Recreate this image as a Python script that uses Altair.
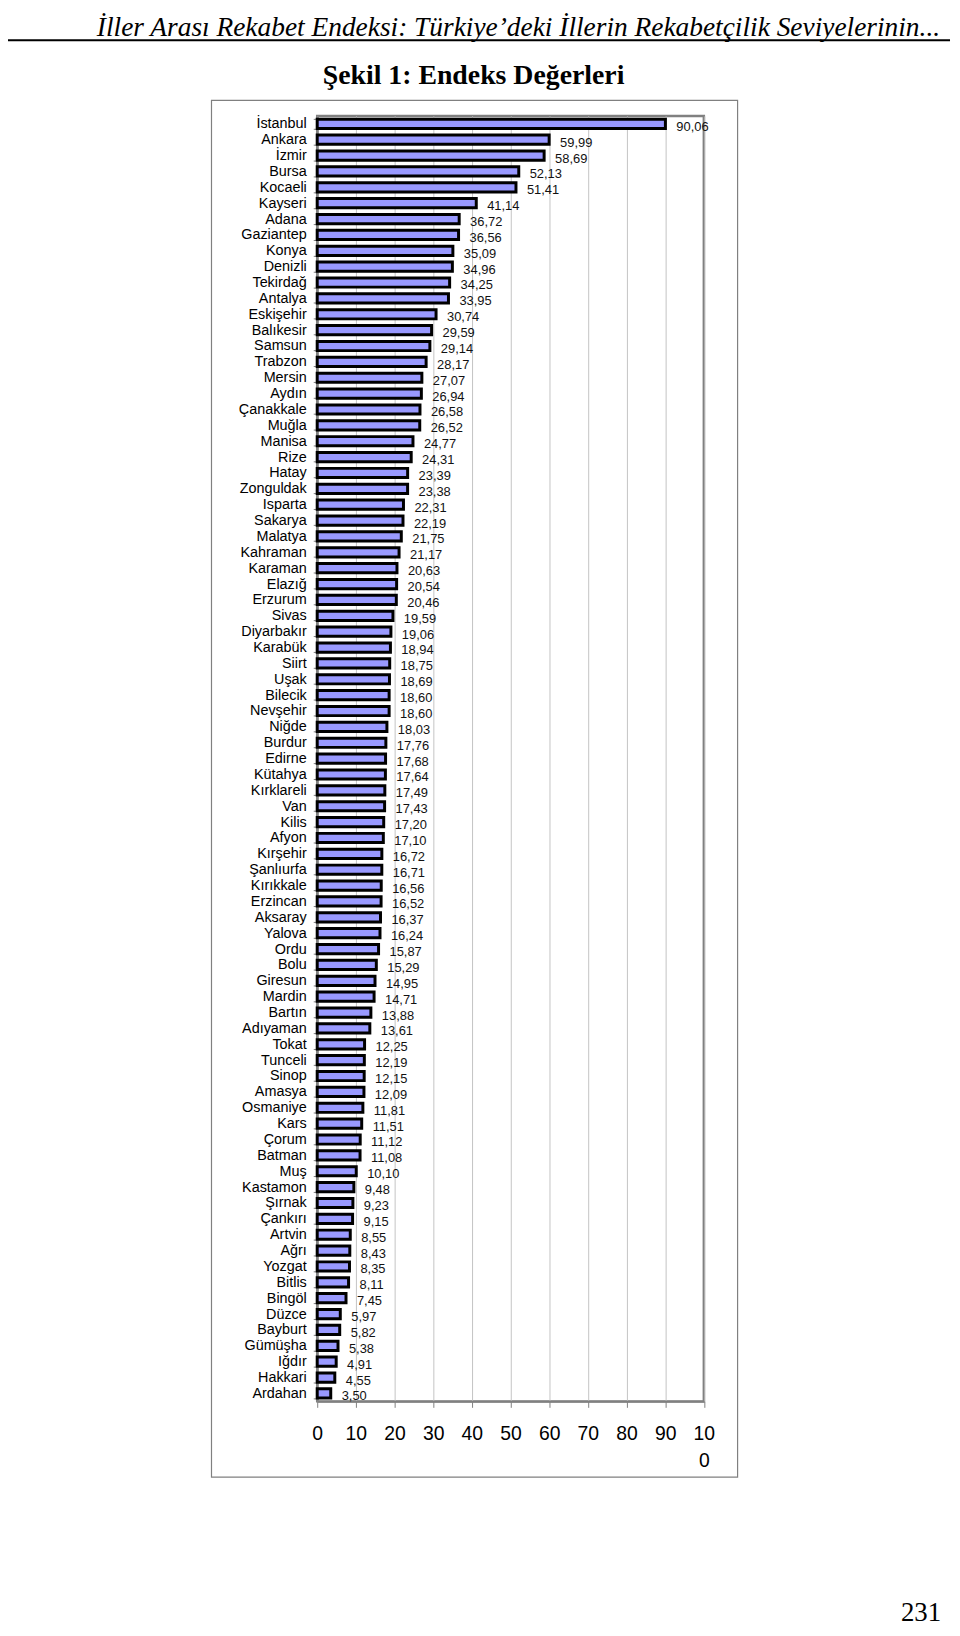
import altair as alt
import pandas as pd

provinces = [
    "İstanbul", "Ankara", "İzmir", "Bursa", "Kocaeli", "Kayseri", "Adana", "Gaziantep",
    "Konya", "Denizli", "Tekirdağ", "Antalya", "Eskişehir", "Balıkesir", "Samsun", "Trabzon",
    "Mersin", "Aydın", "Çanakkale", "Muğla", "Manisa", "Rize", "Hatay", "Zonguldak",
    "Isparta", "Sakarya", "Malatya", "Kahraman", "Karaman", "Elazığ", "Erzurum", "Sivas",
    "Diyarbakır", "Karabük", "Siirt", "Uşak", "Bilecik", "Nevşehir", "Niğde", "Burdur",
    "Edirne", "Kütahya", "Kırklareli", "Van", "Kilis", "Afyon", "Kırşehir", "Şanlıurfa",
    "Kırıkkale", "Erzincan", "Aksaray", "Yalova", "Ordu", "Bolu", "Giresun", "Mardin",
    "Bartın", "Adıyaman", "Tokat", "Tunceli", "Sinop", "Amasya", "Osmaniye", "Kars",
    "Çorum", "Batman", "Muş", "Kastamon", "Şırnak", "Çankırı", "Artvin", "Ağrı",
    "Yozgat", "Bitlis", "Bingöl", "Düzce", "Bayburt", "Gümüşha", "Iğdır", "Hakkari", "Ardahan",
]

values = [
    90.06, 59.99, 58.69, 52.13, 51.41, 41.14, 36.72, 36.56,
    35.09, 34.96, 34.25, 33.95, 30.74, 29.59, 29.14, 28.17,
    27.07, 26.94, 26.58, 26.52, 24.77, 24.31, 23.39, 23.38,
    22.31, 22.19, 21.75, 21.17, 20.63, 20.54, 20.46, 19.59,
    19.06, 18.94, 18.75, 18.69, 18.60, 18.60, 18.03, 17.76,
    17.68, 17.64, 17.49, 17.43, 17.20, 17.10, 16.72, 16.71,
    16.56, 16.52, 16.37, 16.24, 15.87, 15.29, 14.95, 14.71,
    13.88, 13.61, 12.25, 12.19, 12.15, 12.09, 11.81, 11.51,
    11.12, 11.08, 10.10, 9.48, 9.23, 9.15, 8.55, 8.43,
    8.35, 8.11, 7.45, 5.97, 5.82, 5.38, 4.91, 4.55, 3.50,
]

x_ticks = [0, 10, 20, 30, 40, 50, 60, 70, 80, 90, 100]

header_text = "İller Arası Rekabet Endeksi: Türkiye’deki İllerin Rekabetçilik Seviyelerinin..."
title_text = "Şekil 1: Endeks Değerleri"
page_number = "231"

df = pd.DataFrame({
    "il": provinces,
    "deger": values,
    "etiket": [f"{v:.2f}".replace(".", ",") for v in values],
})

W, H = 389.5, 1295
PAD_L, PAD_T, PAD_R, PAD_B = 311.5, 102.7, 250, 222

x_axis = alt.Axis(
    values=x_ticks,
    title=None,
    labelFont="Liberation Sans",
    labelFontSize=19.5,
    labelColor="black",
    labelPadding=17,
    labelBaseline="top",
    labelLineHeight=28,
    labelOverlap=False,
    labelFlush=False,
    labelExpr="datum.value == 100 ? ['10', '0'] : datum.label",
    tickSize=6,
    tickColor="#808080",
    domainColor="#808080",
    domainWidth=2,
    grid=True,
    gridColor="#c4c4c4",
    gridWidth=1,
)
x_scale = alt.Scale(domain=[0, 100], nice=False)

y_axis = alt.Axis(
    title=None,
    labelFont="Liberation Sans",
    labelFontSize=14.5,
    labelColor="black",
    labelPadding=7,
    labelOverlap=False,
    tickBand="extent",
    tickSize=4,
    tickColor="#808080",
    domainColor="#808080",
    domainWidth=2,
    grid=False,
)
y_scale = alt.Scale(paddingInner=0.42, paddingOuter=0.21)

x_enc = alt.X("deger:Q", scale=x_scale, axis=x_axis)
y_enc = alt.Y("il:N", sort=provinces, scale=y_scale, axis=y_axis)

bars = alt.Chart(df).mark_bar(
    fill="#9999FF", stroke="black", strokeWidth=3
).encode(x=x_enc, y=y_enc)

labels = alt.Chart(df).mark_text(
    align="left", baseline="middle", dx=11, dy=3,
    font="Liberation Sans", fontSize=13, color="#111111"
).encode(x=x_enc, y=y_enc, text="etiket:N")

one = pd.DataFrame({"d": [0]})
OX, OY = PAD_L + 8, PAD_T + 8  # plot origin in page pixels

header = alt.Chart(one).mark_text(
    text=header_text, align="right", baseline="alphabetic",
    font="Liberation Serif", fontStyle="italic", fontSize=27.6, color="black"
).encode(x=alt.value(947 - OX), y=alt.value(30.5 - OY))

header_rule = alt.Chart(one).mark_rule(color="black", strokeWidth=2).encode(
    x=alt.value(5 - OX), x2=alt.value(957 - OX), y=alt.value(34.5 - OY)
)

title = alt.Chart(one).mark_text(
    text=title_text, align="center", baseline="alphabetic",
    font="Liberation Serif", fontWeight="bold", fontSize=28, color="black"
).encode(x=alt.value(477 - OX), y=alt.value(79 - OY))

frame = alt.Chart(one).mark_rect(
    fillOpacity=0, stroke="#808080", strokeWidth=1.2
).encode(
    x=alt.value(213 - OX), x2=alt.value(743 - OX),
    y=alt.value(95 - OY), y2=alt.value(1482 - OY)
)

page = alt.Chart(one).mark_text(
    text=page_number, align="right", baseline="alphabetic",
    font="Liberation Serif", fontSize=27, color="black"
).encode(x=alt.value(948 - OX), y=alt.value(1627 - OY))

chart = alt.layer(
    frame, bars, labels, header, header_rule, title, page
).properties(
    width=W,
    height=H,
    autosize=alt.AutoSizeParams(type="none"),
    padding={"left": PAD_L, "top": PAD_T, "right": PAD_R, "bottom": PAD_B},
    background="white",
).configure_view(
    stroke="#808080", strokeWidth=2.5
)

chart.save("out.html", embed_options={"renderer": "svg", "actions": False})
